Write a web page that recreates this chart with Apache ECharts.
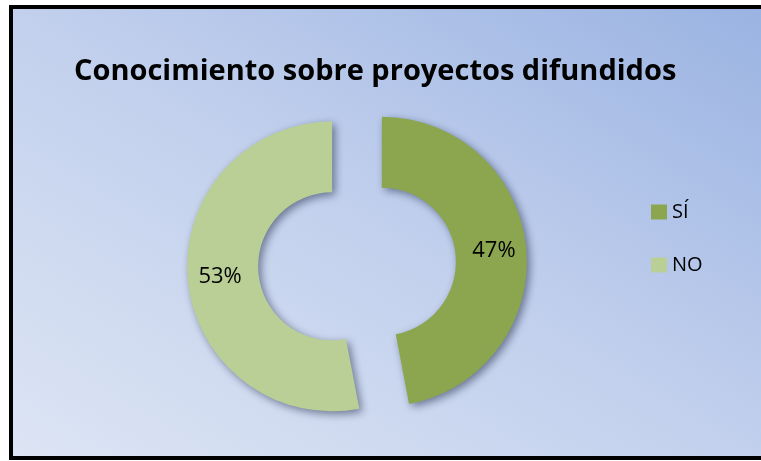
<!DOCTYPE html>
<html>
<head>
<meta charset="utf-8">
<script src="https://cdn.jsdelivr.net/npm/echarts@6/dist/echarts.min.js"></script>
<style>
  html, body { margin: 0; padding: 0; background: #fff; }
  #chart { width: 761px; height: 461px; }
</style>
</head>
<body>
<div id="chart"></div>
<script>
const categories = ['SÍ', 'NO'];
const values = [47, 53];
const colorList = ['#8BA64F', '#BACF96'];

const myChart = echarts.init(document.getElementById('chart'));

const option = {
  animation: false,
  title: {
    text: 'Conocimiento sobre proyectos difundidos',
    left: 74,
    top: 57,
    padding: 0,
    textStyle: {
      fontFamily: "'Open Sans', sans-serif",
      fontSize: 29,
      fontWeight: 'bold',
      color: '#000'
    }
  },
  legend: {
    orient: 'vertical',
    left: 646,
    top: 197,
    itemWidth: 16,
    itemHeight: 15,
    itemGap: 33,
    icon: 'rect',
    data: categories,
    textStyle: {
      fontFamily: "'Open Sans', sans-serif",
      fontSize: 20,
      color: '#000'
    }
  },
  graphic: [
    {
      type: 'rect',
      z: -10,
      silent: true,
      shape: { x: 11, y: 7, width: 800, height: 451 },
      style: {
        // light at bottom-left, dark at top-right
        fill: new echarts.graphic.LinearGradient(11, 458, 409, -205, [
          { offset: 0, color: '#dde5f4' },
          { offset: 0.5, color: '#c2d0ed' },
          { offset: 1, color: '#9ab3e2' }
        ], true),
        stroke: '#000',
        lineWidth: 4
      }
    }
  ],
  series: [
    {
      name: 'Conocimiento',
      type: 'pie',
      center: [357, 264],
      radius: [74, 145],
      startAngle: 90,
      clockwise: true,
      selectedMode: 'multiple',
      selectedOffset: 25,
      avoidLabelOverlap: false,
      emphasis: { scale: false },
      itemStyle: {
        shadowColor: 'rgba(30,40,70,0.55)',
        shadowBlur: 8,
        shadowOffsetX: 3,
        shadowOffsetY: 3
      },
      label: {
        show: true,
        position: 'inside',
        formatter: '{d}%',
        padding: [6, 0, 0, 0],
        fontFamily: "'Open Sans', sans-serif",
        fontSize: 22,
        color: '#000'
      },
      labelLine: { show: false },
      data: categories.map((name, i) => ({
        name: name,
        value: values[i],
        selected: true,
        itemStyle: { color: colorList[i] }
      }))
    }
  ]
};

myChart.setOption(option);
</script>
</body>
</html>
